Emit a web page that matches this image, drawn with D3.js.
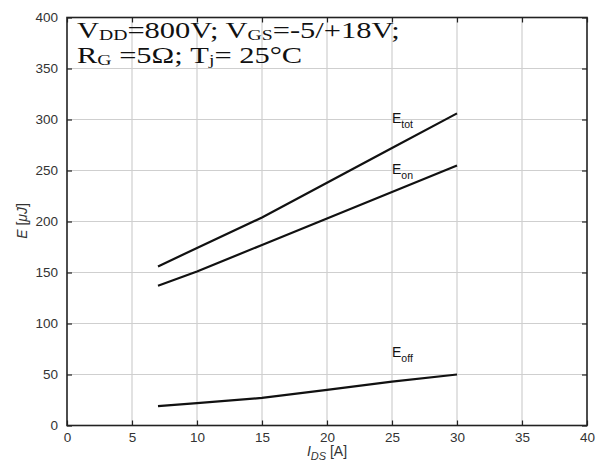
<!DOCTYPE html>
<html><head><meta charset="utf-8">
<script src="https://cdn.jsdelivr.net/npm/d3@7"></script>
<style>body{margin:0;background:#fff}</style>
</head><body>
<svg id="c" width="603" height="462"></svg>
<script>
const currents = [7, 10, 15, 20, 25, 30];
const eTot = [156, 174, 204, 238, 272, 306];
const eOn  = [137, 151, 177, 203, 229, 255];
const eOff = [19, 22, 27, 35, 43, 50];
const xTicks = [0,5,10,15,20,25,30,35,40];
const yTicks = [0,50,100,150,200,250,300,350,400];

const svg = d3.select("#c");
const L=67, R=587, T=17.5, B=425.5;
const x = d3.scaleLinear().domain([0,40]).range([L,R]);
const y = d3.scaleLinear().domain([0,400]).range([B,T]);

// grid
svg.append("g").selectAll("line").data(xTicks.slice(1,-1)).join("line")
  .attr("x1",d=>x(d)).attr("x2",d=>x(d)).attr("y1",T).attr("y2",B)
  .attr("stroke","#cfcfcf").attr("stroke-width",1.2);
svg.append("g").selectAll("line").data(yTicks.slice(1,-1)).join("line")
  .attr("y1",d=>y(d)).attr("y2",d=>y(d)).attr("x1",L).attr("x2",R)
  .attr("stroke","#cfcfcf").attr("stroke-width",1.2);

// axes
const fontAx = "Liberation Sans, Arial, sans-serif";
const xa = svg.append("g").attr("transform",`translate(0,${B})`)
  .call(d3.axisBottom(x).tickValues(xTicks).tickSize(-5).tickPadding(7));
const ya = svg.append("g").attr("transform",`translate(${L},0)`)
  .call(d3.axisLeft(y).tickValues(yTicks).tickSize(-5).tickPadding(9));
svg.append("g").attr("transform",`translate(0,${T})`)
  .call(d3.axisTop(x).tickValues(xTicks).tickSize(-5).tickFormat(""));
svg.append("g").attr("transform",`translate(${R},0)`)
  .call(d3.axisRight(y).tickValues(yTicks).tickSize(-5).tickFormat(""));
svg.selectAll(".domain").remove();
svg.selectAll(".tick line").attr("stroke","#222").attr("stroke-width",1.2);
[xa,ya].forEach(a=>a.selectAll("text").attr("font-family",fontAx).attr("font-size",13.5).attr("fill","#333"));
svg.append("rect").attr("x",L).attr("y",T).attr("width",R-L).attr("height",B-T)
  .attr("fill","none").attr("stroke","#222").attr("stroke-width",1.6);

// lines
const line = d3.line().x((d,i)=>x(currents[i])).y(d=>y(d));
[eTot,eOn,eOff].forEach(s=>{
  svg.append("path").attr("d",line(s)).attr("fill","none").attr("stroke","#111").attr("stroke-width",2.2);
});

// series labels
function lab(xp,yp,sub){
  const t = svg.append("text").attr("x",xp).attr("y",yp).attr("font-family",fontAx).attr("font-size",14).attr("fill","#111");
  t.append("tspan").text("E");
  t.append("tspan").attr("dy",5).attr("font-size",10.5).text(sub);
}
lab(392,123,"tot");
lab(392,174,"on");
lab(392,357,"off");

// annotation (horizontally stretched serif text as in reference)
const fs = "Liberation Serif, Times New Roman, serif";
const ann = svg.append("g").attr("transform","translate(77,0) scale(1.27,1)");
const a1 = ann.append("text").attr("x",0).attr("y",38).attr("font-family",fs).attr("font-size",24).attr("fill","#111");
a1.append("tspan").text("V");
a1.append("tspan").attr("font-size",15.5).attr("dy",2).text("DD");
a1.append("tspan").attr("dy",-2).text("=800V; V");
a1.append("tspan").attr("font-size",15.5).attr("dy",2).text("GS");
a1.append("tspan").attr("dy",-2).text("=-5/+18V;");
const a2 = ann.append("text").attr("x",0).attr("y",63).attr("font-family",fs).attr("font-size",24).attr("fill","#111");
a2.append("tspan").text("R");
a2.append("tspan").attr("font-size",15.5).attr("dy",2).text("G");
a2.append("tspan").attr("dy",-2).text(" =5Ω; T");
a2.append("tspan").attr("font-size",15.5).attr("dy",2).text("j");
a2.append("tspan").attr("dy",-2).text("= 25°C");

// axis titles
const xl = svg.append("text").attr("x",327).attr("y",456).attr("text-anchor","middle")
  .attr("font-family",fontAx).attr("font-size",14).attr("fill","#333");
xl.append("tspan").attr("font-style","italic").text("I");
xl.append("tspan").attr("font-style","italic").attr("font-size",11).attr("dy",4).text("DS");
xl.append("tspan").attr("dy",-4).text(" [A]");
const yl = svg.append("text").attr("transform","translate(27,221) rotate(-90)").attr("text-anchor","middle")
  .attr("font-family",fontAx).attr("font-size",14).attr("fill","#333");
yl.append("tspan").attr("font-style","italic").text("E");
yl.append("tspan").text(" [");
yl.append("tspan").attr("font-style","italic").text("μJ");
yl.append("tspan").text("]");
</script>
</body></html>
